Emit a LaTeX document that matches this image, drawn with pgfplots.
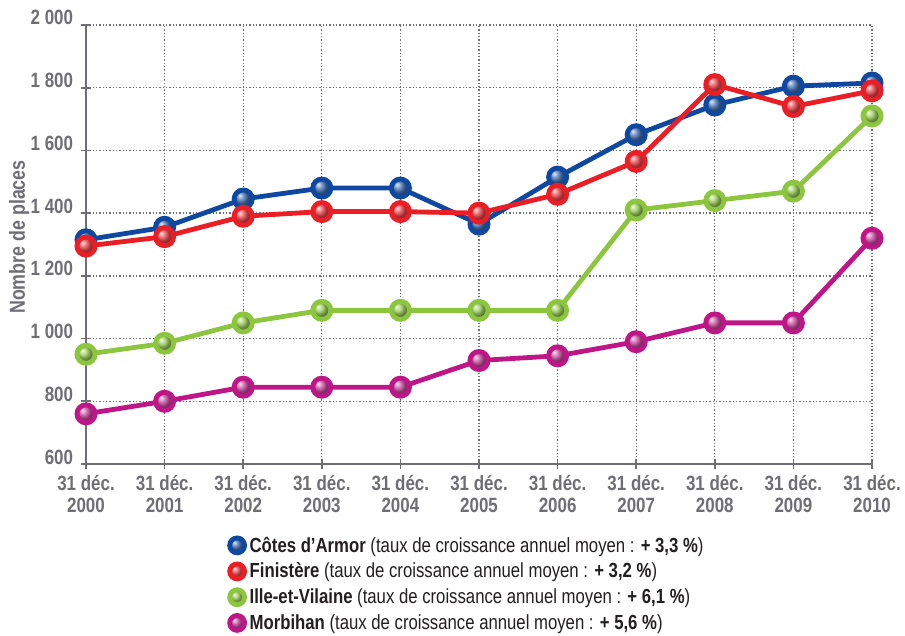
\documentclass[border=0pt]{standalone}
\usepackage{fontspec}
\setmainfont{Liberation Sans}[FakeStretch=0.82]
\usepackage{pgfplots}
\pgfplotsset{compat=1.18}
\definecolor{cblue}{RGB}{14,72,160}
\definecolor{cred}{RGB}{235,30,38}
\definecolor{cgreen}{RGB}{140,198,63}
\definecolor{cmag}{RGB}{190,22,135}
\definecolor{axgray}{RGB}{110,110,116}
\definecolor{txt}{RGB}{35,31,32}
\begin{document}
\begin{tikzpicture}
\useasboundingbox (-64.5pt,-128.25pt) rectangle (614.25pt,348pt);
\begin{axis}[
  scale only axis, width=589.5pt, height=329.25pt,
  at={(0pt,0pt)}, anchor=south west,
  xmin=0, xmax=10, ymin=600, ymax=2000,
  clip=false,
  axis lines=left, axis line style={-, axgray, line width=1.5pt},
  xtick={0,...,10},
  xticklabels={31 déc.\\2000,31 déc.\\2001,31 déc.\\2002,31 déc.\\2003,31 déc.\\2004,31 déc.\\2005,31 déc.\\2006,31 déc.\\2007,31 déc.\\2008,31 déc.\\2009,31 déc.\\2010},
  ytick={600,800,1000,1200,1400,1600,1800,2000},
  yticklabels={600,800,1 000,1 200,1 400,1 600,1 800,2 000},
  tick align=center, major tick length=7pt,
  tick style={axgray, line width=1.2pt},
  grid=major,
  major grid style={axgray, line width=1pt, dash pattern=on 1pt off 1.5pt},
  ticklabel style={font=\fontsize{15.5}{16}\selectfont\bfseries, text=axgray},
  xticklabel style={align=center, inner sep=0pt, yshift=-5pt},
  yticklabel style={anchor=base east, inner sep=0pt, xshift=-6pt},
  ylabel={Nombre de places},
  every axis y label/.style={at={(axis description cs:-0.085,0.517)}, rotate=90, anchor=center,
     font=\fontsize{16.3}{18}\selectfont\bfseries, text=axgray},
  legend style={at={(axis description cs:0.176,-0.153)}, anchor=north west,
     draw=none, fill=none, font=\fontsize{15.3}{17}\selectfont, text=txt,
     row sep=2.7pt, inner sep=2pt},
  legend cell align=left,
  every axis plot/.append style={line width=3.6pt, mark=ball, mark size=6.8pt},
]
\addplot[cblue, mark options={ball color=cblue!75!white},
  legend image code/.code={\shade[ball color=cblue!75!white] (0.2cm,0cm) circle (5.6pt);}]
  coordinates {(0,1315)(1,1355)(2,1445)(3,1480)(4,1480)(5,1365)(6,1515)(7,1650)(8,1745)(9,1805)(10,1815)};
\addlegendentry{\textbf{Côtes d’Armor} (taux de croissance annuel moyen : \textbf{+ 3,3 \%})}
\addplot[cred, mark options={ball color=cred!80!white},
  legend image code/.code={\shade[ball color=cred!80!white] (0.2cm,0cm) circle (5.6pt);}]
  coordinates {(0,1295)(1,1325)(2,1390)(3,1405)(4,1405)(5,1400)(6,1460)(7,1565)(8,1810)(9,1740)(10,1790)};
\addlegendentry{\textbf{Finistère} (taux de croissance annuel moyen : \textbf{+ 3,2 \%})}
\addplot[cgreen, mark options={ball color=cgreen!85!white},
  legend image code/.code={\shade[ball color=cgreen!85!white] (0.2cm,0cm) circle (5.6pt);}]
  coordinates {(0,950)(1,985)(2,1050)(3,1090)(4,1090)(5,1090)(6,1090)(7,1410)(8,1440)(9,1470)(10,1710)};
\addlegendentry{\textbf{Ille-et-Vilaine} (taux de croissance annuel moyen : \textbf{+ 6,1 \%})}
\addplot[cmag, mark options={ball color=cmag!75!white},
  legend image code/.code={\shade[ball color=cmag!75!white] (0.2cm,0cm) circle (5.6pt);}]
  coordinates {(0,760)(1,800)(2,845)(3,845)(4,845)(5,930)(6,945)(7,990)(8,1050)(9,1050)(10,1320)};
\addlegendentry{\textbf{Morbihan} (taux de croissance annuel moyen : \textbf{+ 5,6 \%})}
\end{axis}
\end{tikzpicture}
\end{document}
